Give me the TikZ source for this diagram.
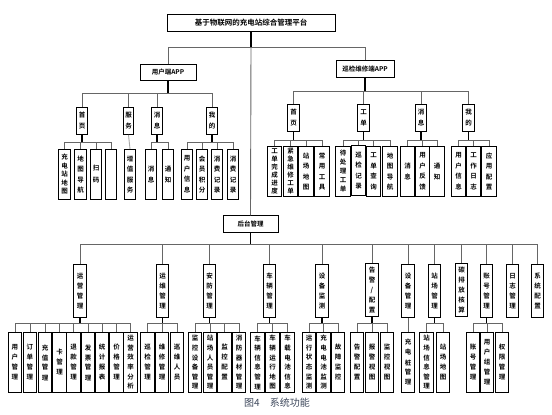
\documentclass[tikz,border=0pt]{standalone}
\usepackage{fontspec}
\setmainfont{Noto Sans CJK SC}[BoldFont={Noto Sans CJK SC Bold}]
\definecolor{capcolor}{RGB}{62,72,92}
\tikzset{
  box/.style={draw=black, line width=0.8pt, fill=white, inner sep=0.5pt, align=center},
  hbox/.style={box, minimum height=16.5pt, font=\fontsize{6.5}{8}\selectfont\bfseries},
  vbox/.style={box, anchor=north},
  mida/.style={vbox, minimum width=10.5pt, minimum height=27pt, font=\fontsize{6.5}{11}\selectfont\bfseries},
  midi/.style={mida, minimum width=11.5pt},
  leafu/.style={vbox, minimum width=11.5pt, minimum height=50pt, font=\fontsize{6.5}{10.5}\selectfont\bfseries},
  leafi/.style={leafu, minimum width=14.5pt},
  midb/.style={vbox, minimum width=12.5pt, minimum height=53pt, font=\fontsize{6.5}{10}\selectfont\bfseries},
  leafb/.style={vbox, minimum width=13.5pt, minimum height=60pt, font=\fontsize{6.5}{10}\selectfont\bfseries},
  tight/.style={font=\fontsize{6.5}{8}\selectfont\bfseries},
  dense/.style={font=\fontsize{6.5}{9.6}\selectfont\bfseries},
  link/.style={draw=black!60, line width=0.9pt},
  trunk/.style={draw=black, line width=1.4pt},
}
\begin{document}
\begin{tikzpicture}[x=1pt, y=-1pt]
	\useasboundingbox (0,0) rectangle (552,415);
	% first levels
	\node[hbox, minimum width=168pt, font=\fontsize{7.5}{9}\selectfont\bfseries] (root) at (251,23) {基于物联网的充电站综合管理平台};
	\node[hbox, minimum width=56pt] (uapp) at (168,72.5) {用户端APP};
	\node[hbox, minimum width=58pt] (iapp) at (365,69) {巡检维修端APP};
	\node[hbox, minimum width=55pt] (admin) at (250.5,224) {后台管理};
	\draw[trunk] (root.south) -- (root.south |- 0,47);
	\draw[link] (uapp.north) -- (uapp.north |- 0,47) -- (iapp.north |- 0,47) -- (iapp.north);
	\draw[link] (root.south |- 0,47) -- (admin.north);
	% user app
	\node[mida] (uhome) at (82,107) {首\\页};
	\node[mida] (userv) at (128.5,107) {服\\务};
	\node[mida] (umsg) at (157,107) {消\\息};
	\node[mida] (umine) at (212,107) {我\\的};
	\node[leafu, font=\fontsize{6.5}{8.5}\selectfont\bfseries] (uh1) at (64.5,149) {充\\电\\站\\地\\图};
	\node[leafu] (uh2) at (80.5,149) {地\\图\\导\\航};
	\node[leafu, font=\fontsize{6.5}{12}\selectfont\bfseries] (uh3) at (96,149) {扫\\码};
	\node[leafu] (uh4) at (111,149) {};
	\node[leafu] (us1) at (130,149) {增\\值\\服\\务};
	\node[leafu] (um1) at (151,149) {消\\息};
	\node[leafu] (um2) at (168,149) {通\\知};
	\node[leafu] (ume1) at (187,149) {用\\户\\信\\息};
	\node[leafu] (ume2) at (202,149) {会\\员\\积\\分};
	\node[leafu] (ume3) at (217,149) {消\\费\\记\\录};
	\node[leafu] (ume4) at (233,149) {消\\费\\记\\录};
	\draw[trunk] (uapp.south) -- (uapp.south |- 0,93);
	\foreach \c in {uhome,userv,umsg,umine} \draw[link] (uapp.south |- 0,93) -| (\c.north);
	\draw[trunk] (uhome.south) -- (uhome.south |- 0,142);
	\foreach \c in {uh1,uh2,uh3,uh4} \draw[link] (uhome.south |- 0,142) -| (\c.north);
	\draw[link, draw=black!35] (userv.south) -- (us1.north);
	\draw[trunk] (umsg.south) -- (umsg.south |- 0,142);
	\foreach \c in {um1,um2} \draw[link] (umsg.south |- 0,142) -| (\c.north);
	\draw[trunk] (umine.south) -- (umine.south |- 0,142);
	\foreach \c in {ume1,ume2,ume3,ume4} \draw[link] (umine.south |- 0,142) -| (\c.north);
	% inspection app
	\node[midi] (ihome) at (293.5,104) {首\\页};
	\node[midi] (iorder) at (363.5,104) {工\\单};
	\node[midi] (imsg) at (421,104) {消\\息};
	\node[midi] (imine) at (468.5,104) {我\\的};
	\node[leafi, tight] (ih1) at (274.5,146) {工\\单\\完\\成\\进\\度};
	\node[leafi, tight] (ih2) at (290.5,146) {紧\\急\\维\\修\\工\\单};
	\node[leafi] (ih3) at (306,146) {站\\场\\地\\图};
	\node[leafi] (ih4) at (322,146) {常\\用\\工\\具};
	\node[leafi, font=\fontsize{6.5}{9}\selectfont\bfseries] (io1) at (343,146) {待\\处\\理\\工\\单};
	\node[leafi] (io2) at (358.5,145) {巡\\检\\记\\录};
	\node[leafi] (io3) at (373.5,146) {工\\单\\查\\询};
	\node[leafi] (io4) at (390,146) {地\\图\\导\\航};
	\node[leafi] (im1) at (407.5,146) {消\\息};
	\node[leafi] (im2) at (422.5,146) {用\\户\\反\\馈};
	\node[leafi] (im3) at (437,146) {通\\知};
	\node[leafi] (imi1) at (458.5,146) {用\\户\\信\\息};
	\node[leafi] (imi2) at (473.5,146) {工\\作\\日\\志};
	\node[leafi] (imi3) at (489,146) {应\\用\\配\\置};
	\draw[trunk] (iapp.south) -- (iapp.south |- 0,91);
	\foreach \c in {ihome,iorder,imsg,imine} \draw[link] (iapp.south |- 0,91) -| (\c.north);
	\draw[trunk] (ihome.south) -- (ihome.south |- 0,140);
	\foreach \c in {ih1,ih2,ih3,ih4} \draw[link] (ihome.south |- 0,140) -| (\c.north);
	\draw[trunk] (iorder.south) -- (iorder.south |- 0,140);
	\foreach \c in {io1,io2,io3,io4} \draw[link] (iorder.south |- 0,140) -| (\c.north);
	\draw[trunk] (imsg.south) -- (imsg.south |- 0,140);
	\foreach \c in {im1,im2,im3} \draw[link] (imsg.south |- 0,140) -| (\c.north);
	\draw[trunk] (imine.south) -- (imine.south |- 0,140);
	\foreach \c in {imi1,imi2,imi3} \draw[link] (imine.south |- 0,140) -| (\c.north);
	% back end
	\node[midb] (ops) at (80,264) {运\\营\\管\\理};
	\node[midb] (maint) at (162.5,264) {运\\维\\管\\理};
	\node[midb] (sec) at (209.5,264) {安\\防\\管\\理};
	\node[midb] (veh) at (269.5,264) {车\\辆\\管\\理};
	\node[midb] (mon) at (322,264) {设\\备\\监\\测};
	\node[midb] (alarm) at (372,263) {告\\警\\/\\配\\置};
	\node[midb] (dev) at (408,264) {设\\备\\管\\理};
	\node[midb] (site) at (434.5,264) {站\\场\\管\\理};
	\node[midb] (carbon) at (461.5,263) {碳\\排\\放\\核\\算};
	\node[midb] (acct) at (486.5,264) {账\\号\\管\\理};
	\node[midb] (log) at (512.5,264) {日\\志\\管\\理};
	\node[midb] (sys) at (537.5,264) {系\\统\\配\\置};
	\draw[trunk] (admin.south) -- (admin.south |- 0,244);
	\foreach \c in {ops,maint,sec,veh,mon,alarm,dev,site,carbon,acct,log,sys} \draw[link] (admin.south |- 0,244) -| (\c.north);
	\node[leafb] (o1) at (15,332) {用\\户\\管\\理};
	\node[leafb] (o2) at (30,332) {订\\单\\管\\理};
	\node[leafb] (o3) at (45,332) {充\\值\\管\\理};
	\node[leafb] (o4) at (59.5,332) {卡\\管\\理};
	\node[leafb] (o5) at (73.5,332) {退\\款\\管\\理};
	\node[leafb] (o6) at (88,332) {发\\票\\管\\理};
	\node[leafb] (o7) at (102,332) {统\\计\\报\\表};
	\node[leafb] (o8) at (116.5,332) {价\\格\\管\\理};
	\node[leafb, dense] (o9) at (130.5,332) {运\\营\\效\\率\\分\\析};
	\node[leafb] (m1) at (147.5,332) {巡\\检\\管\\理};
	\node[leafb] (m2) at (162,332) {维\\修\\管\\理};
	\node[leafb] (m3) at (177,332) {巡\\维\\人\\员};
	\node[leafb, dense] (s1) at (195,332) {监\\控\\设\\备\\管\\理};
	\node[leafb, dense] (s2) at (210,332) {站\\场\\人\\员\\管\\理};
	\node[leafb] (s3) at (224.5,332) {监\\控\\配\\置};
	\node[leafb, dense] (s4) at (239,332) {消\\防\\器\\材\\管\\理};
	\node[leafb, dense] (v1) at (257.5,332) {车\\辆\\信\\息\\管\\理};
	\node[leafb, dense] (v2) at (272.5,332) {车\\辆\\运\\行\\地\\图};
	\node[leafb, dense] (v3) at (287.5,332) {车\\载\\电\\池\\信\\息};
	\node[leafb, dense] (d1) at (309,332) {运\\行\\状\\态\\监\\测};
	\node[leafb, dense] (d2) at (323.5,332) {充\\电\\电\\池\\监\\测};
	\node[leafb] (d3) at (338,332) {故\\障\\监\\控};
	\node[leafb] (a1) at (357,332) {告\\警\\配\\置};
	\node[leafb] (a2) at (372,332) {报\\警\\视\\图};
	\node[leafb] (a3) at (387,332) {监\\控\\视\\图};
	\node[leafb] (e1) at (408,332) {充\\电\\桩\\管\\理};
	\node[leafb, dense] (t1) at (426.5,332) {站\\场\\信\\息\\管\\理};
	\node[leafb] (t2) at (443,332) {站\\场\\地\\图};
	\node[leafb] (c1) at (473,332) {账\\号\\管\\理};
	\node[leafb] (c2) at (487,332) {用\\户\\组\\管\\理};
	\node[leafb] (c3) at (502,332) {权\\限\\管\\理};
	\draw[trunk] (ops.south) -- (ops.south |- 0,323);
	\foreach \c in {o1,o2,o3,o4,o5,o6,o7,o8,o9} \draw[link] (ops.south |- 0,323) -| (\c.north);
	\draw[trunk] (maint.south) -- (maint.south |- 0,323);
	\foreach \c in {m1,m2,m3} \draw[link] (maint.south |- 0,323) -| (\c.north);
	\draw[trunk] (sec.south) -- (sec.south |- 0,323);
	\foreach \c in {s1,s2,s3,s4} \draw[link] (sec.south |- 0,323) -| (\c.north);
	\draw[trunk] (veh.south) -- (veh.south |- 0,323);
	\foreach \c in {v1,v2,v3} \draw[link] (veh.south |- 0,323) -| (\c.north);
	\draw[trunk] (mon.south) -- (mon.south |- 0,323);
	\foreach \c in {d1,d2,d3} \draw[link] (mon.south |- 0,323) -| (\c.north);
	\draw[trunk] (alarm.south) -- (alarm.south |- 0,323);
	\foreach \c in {a1,a2,a3} \draw[link] (alarm.south |- 0,323) -| (\c.north);
	\draw[link] (dev.south) -- (e1.north);
	\draw[trunk] (site.south) -- (site.south |- 0,323);
	\foreach \c in {t1,t2} \draw[link] (site.south |- 0,323) -| (\c.north);
	\draw[trunk] (acct.south) -- (acct.south |- 0,323);
	\foreach \c in {c1,c2,c3} \draw[link] (acct.south |- 0,323) -| (\c.north);
	% caption
	\node[text=capcolor, font=\fontsize{10}{12}\selectfont] (cap) at (277,403) {图4\quad 系统功能};
\end{tikzpicture}
\end{document}
